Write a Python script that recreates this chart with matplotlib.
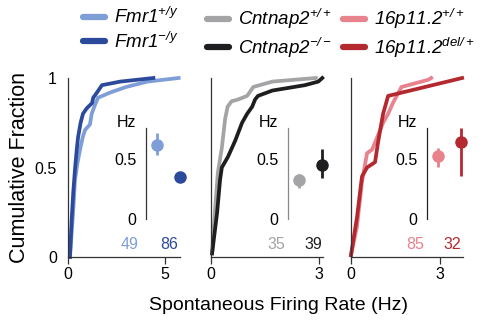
import numpy as np
import matplotlib
matplotlib.use('Agg')
from matplotlib import pyplot as plt
from matplotlib.lines import Line2D

plt.rcParams['font.family'] = ['Liberation Sans', 'DejaVu Sans']
plt.rcParams['mathtext.fontset'] = 'custom'
plt.rcParams['mathtext.rm'] = 'Liberation Sans:italic'
plt.rcParams['mathtext.it'] = 'Liberation Sans:italic'

# cumulative distributions (rate in Hz, fraction)
fmr1_wt_x = [0.10, 0.27, 0.36, 0.48, 0.62, 0.76, 0.88, 1.13, 1.22, 1.39, 1.55, 2.2, 3.0, 4.1, 5.7]
fmr1_wt_y = [0.0, 0.26, 0.43, 0.52, 0.60, 0.67, 0.71, 0.74, 0.80, 0.85, 0.89, 0.92, 0.95, 0.98, 1.0]
fmr1_ko_x = [0.10, 0.19, 0.27, 0.36, 0.45, 0.52, 0.65, 0.77, 0.96, 1.24, 1.3, 1.5, 1.75, 2.7, 4.4]
fmr1_ko_y = [0.0, 0.21, 0.36, 0.49, 0.60, 0.67, 0.75, 0.80, 0.83, 0.86, 0.89, 0.92, 0.96, 0.98, 1.0]

cntn_wt_x = [0.03, 0.11, 0.19, 0.30, 0.39, 0.46, 0.57, 0.75, 1.0, 1.17, 1.7, 2.9]
cntn_wt_y = [0.02, 0.26, 0.47, 0.61, 0.77, 0.84, 0.87, 0.88, 0.90, 0.95, 0.98, 1.0]
cntn_ko_x = [0.03, 0.17, 0.25, 0.30, 0.47, 0.67, 0.86, 1.0, 1.14, 1.22, 1.3, 1.7, 2.6, 2.97, 3.08]
cntn_ko_y = [0.02, 0.25, 0.43, 0.50, 0.56, 0.65, 0.75, 0.80, 0.84, 0.88, 0.90, 0.93, 0.96, 0.98, 1.0]

p16_wt_x = [0.0, 0.2, 0.37, 0.54, 0.71, 0.91, 1.08, 1.25, 1.41, 1.7, 2.6, 2.7]
p16_wt_y = [0.01, 0.17, 0.42, 0.58, 0.60, 0.68, 0.75, 0.80, 0.86, 0.95, 0.99, 1.0]
p16_del_x = [0.0, 0.2, 0.37, 0.54, 0.81, 0.91, 1.08, 1.25, 3.74]
p16_del_y = [0.01, 0.22, 0.45, 0.50, 0.53, 0.64, 0.80, 0.90, 1.0]

# inset: mean rate (Hz) with lower / upper error
mean_rate = [[0.62, 0.35], [0.325, 0.45], [0.525, 0.64]]
err_lo = [[0.09, 0.02], [0.07, 0.11], [0.09, 0.28]]
err_hi = [[0.10, 0.02], [0.05, 0.13], [0.07, 0.12]]
n_cells = [[49, 86], [35, 39], [85, 32]]

labels = [['Fmr1$^{+/y}$', 'Fmr1$^{-/y}$'],
          ['Cntnap2$^{+/+}$', 'Cntnap2$^{-/-}$'],
          ['16p11.2$^{+/+}$', '16p11.2$^{del/+}$']]
colors = [['#7f9ed8', '#2b4a9c'], ['#a4a4a6', '#1e1e20'], ['#e8828d', '#b3292f']]
curves = [[(fmr1_wt_x, fmr1_wt_y), (fmr1_ko_x, fmr1_ko_y)],
          [(cntn_wt_x, cntn_wt_y), (cntn_ko_x, cntn_ko_y)],
          [(p16_wt_x, p16_wt_y), (p16_del_x, p16_del_y)]]
xmax = [5.77, 3.1, 3.77]
xticks = [[0, 5], [0, 3], [0, 3]]
inset_axis_col = ['#333333', '#888888', '#222222']

W, H = 485, 326
fig = plt.figure(figsize=(W / 100, H / 100), dpi=100)

ax_left = [68, 211, 351]
inset_left = [146, 288, 427]
n_pos = [[0.55, 0.90], [0.58, 0.91], [0.57, 0.90]]
leg_x = [83, 207, 343]

for i in range(3):
    ax = fig.add_axes([ax_left[i] / W, (H - 257) / H, 112 / W, 179 / H])
    for j in range(2):
        x, y = curves[i][j]
        ax.plot(x, y, color=colors[i][j], lw=2.7, solid_joinstyle='round',
                clip_on=False)
    ax.set_xlim(0, xmax[i])
    ax.set_ylim(0, 1)
    ax.spines[['top', 'right']].set_visible(False)
    for s in ['left', 'bottom']:
        ax.spines[s].set_linewidth(0.9)
        ax.spines[s].set_color('#333333')
    ax.set_xticks(xticks[i])
    ax.tick_params(axis='x', length=5, width=0.9, pad=2, labelsize=11.5,
                   color='#333333')
    if i == 0:
        ax.set_yticks([0, 0.5, 1])
        ax.set_yticklabels(['0', '0.5', '1'])
        ax.tick_params(axis='y', length=0, pad=8, labelsize=11.5)
        ax.set_ylabel('Cumulative Fraction', fontsize=15.5, labelpad=3)
    else:
        ax.set_yticks([])
    for j in range(2):
        ax.text(n_pos[i][j], 0.07, str(n_cells[i][j]), color=colors[i][j],
                fontsize=11.5, ha='center', va='center', transform=ax.transAxes)

    axi = fig.add_axes([inset_left[i] / W, (H - 219) / H, 40 / W, 0.76 * 120 / H])
    axi.patch.set_alpha(0)
    for j in range(2):
        axi.errorbar([j], [mean_rate[i][j]],
                     yerr=[[err_lo[i][j]], [err_hi[i][j]]],
                     fmt='o', color=colors[i][j], ms=8, elinewidth=2,
                     capsize=0, clip_on=False)
    axi.set_xlim(-0.5, 1.24)
    axi.set_ylim(0, 0.76)
    axi.spines[['top', 'right', 'bottom']].set_visible(False)
    axi.spines['left'].set_color(inset_axis_col[i])
    axi.spines['left'].set_linewidth(0.9)
    axi.set_xticks([])
    axi.set_yticks([0, 0.5])
    axi.set_yticklabels(['0', '0.5'])
    axi.tick_params(axis='y', length=0, pad=7, labelsize=11.5)
    axi.text(-0.95, 0.8, 'Hz', fontsize=11.5, ha='right', va='center')

    handles = [Line2D([], [], color=colors[i][j], lw=4.5,
                      solid_capstyle='round') for j in range(2)]
    fig.legend(handles, labels[i], loc='upper left',
               bbox_to_anchor=(leg_x[i] / W, 1 - 7 / H), frameon=False,
               prop={'size': 13.5, 'style': 'italic'}, handlelength=1.15,
               handletextpad=0.5, labelspacing=0.25, borderpad=0,
               borderaxespad=0)

fig.text(279 / W, 1 - 306 / H, 'Spontaneous Firing Rate (Hz)', fontsize=14,
         ha='center', va='center')

fig.savefig('out.png', dpi=100)
